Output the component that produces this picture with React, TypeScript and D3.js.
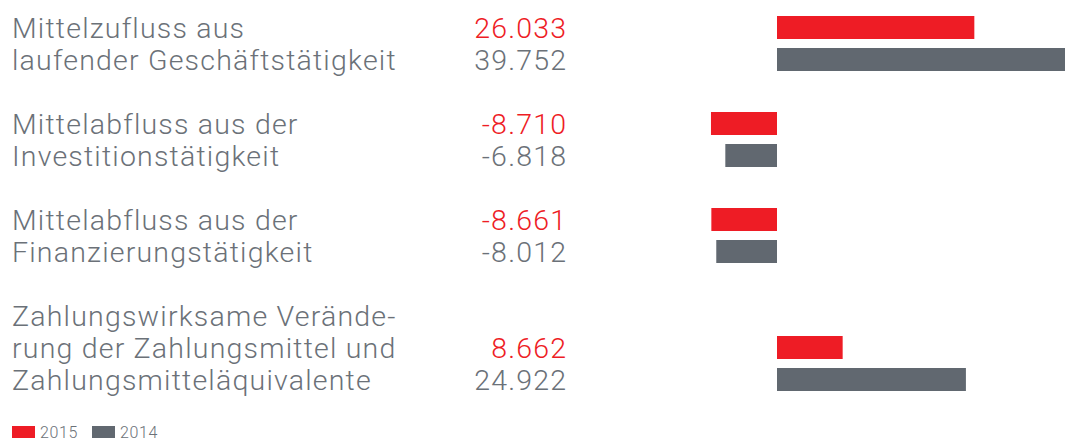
import React from "react";
import * as d3 from "d3";

const categories: string[][] = [
  ["Mittelzufluss aus", "laufender Geschäftstätigkeit"],
  ["Mittelabfluss aus der", "Investitionstätigkeit"],
  ["Mittelabfluss aus der", "Finanzierungstätigkeit"],
  ["Zahlungswirksame Verände-", "rung der Zahlungsmittel und", "Zahlungsmitteläquivalente"],
];
const values2015: number[] = [26.033, -8.71, -8.661, 8.662];
const values2014: number[] = [39.752, -6.818, -8.012, 24.922];
const seriesNames = ["2015", "2014"];

const RED = "#ee1c25";
const GRAY = "#616870";
const TEXT = "#6b7178";
const FONT = "Roboto, 'Noto Sans', sans-serif";

const fmt = (v: number) => (v < 0 ? "-" : "") + Math.abs(v).toFixed(3);

export default function App() {
  const W = 1065;
  const H = 441;
  // x scale: zero at 777, ~7.58 px per unit
  const x = d3.scaleLinear().domain([0, 10]).range([777, 777 + 75.8]);
  // line index -> baseline
  const y = d3.scaleLinear().domain([0, 1]).range([38, 70]);

  let line = 0;
  const groups = categories.map((lines, i) => {
    const start = line;
    line += lines.length + 1;
    const n = lines.length;
    return { lines, start, redLine: start + n - 2, grayLine: start + n - 1, i };
  });

  const barH = 23;
  const ls = 1.2;

  return (
    <svg
      width={W}
      height={H}
      style={{ position: "absolute", left: 0, top: 0 }}
      fontFamily={FONT}
    >
      <rect width={W} height={H} fill="#fff" />
      {groups.map((g) => (
        <g key={g.i}>
          {g.lines.map((t, j) => (
            <text
              key={j}
              x={12}
              y={y(g.start + j)}
              fontSize={28.5}
              fontWeight={300}
              letterSpacing={ls}
              fill={TEXT}
            >
              {t}
            </text>
          ))}
          <text
            x={566 + ls}
            y={y(g.redLine)}
            textAnchor="end"
            fontSize={28.5}
            fontWeight={300}
            letterSpacing={ls}
            fill={RED}
          >
            {fmt(values2015[g.i])}
          </text>
          <text
            x={566 + ls}
            y={y(g.grayLine)}
            textAnchor="end"
            fontSize={28.5}
            fontWeight={300}
            letterSpacing={ls}
            fill={TEXT}
          >
            {fmt(values2014[g.i])}
          </text>
          <rect
            x={Math.min(x(0), x(values2015[g.i]))}
            y={y(g.redLine) - 22}
            width={Math.abs(x(values2015[g.i]) - x(0))}
            height={barH}
            fill={RED}
          />
          <rect
            x={Math.min(x(0), x(values2014[g.i]))}
            y={y(g.grayLine) - 22}
            width={Math.abs(x(values2014[g.i]) - x(0))}
            height={barH}
            fill={GRAY}
          />
        </g>
      ))}
      {seriesNames.map((s, i) => (
        <g key={s} transform={`translate(${12 + i * 80},425)`}>
          <rect y={1} width={23} height={12} fill={i === 0 ? RED : GRAY} />
          <text x={28} y={12.5} fontSize={16} fontWeight={300} letterSpacing={0.6} fill={TEXT}>
            {s}
          </text>
        </g>
      ))}
    </svg>
  );
}
